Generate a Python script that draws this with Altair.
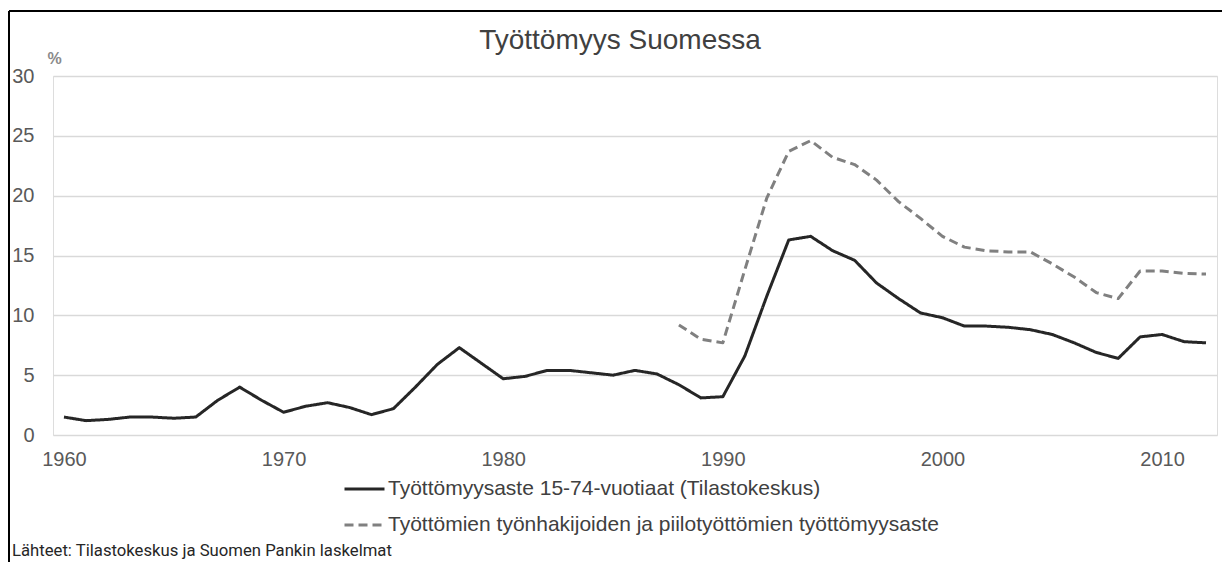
import altair as alt
import pandas as pd

# ---- data ----
series_names = [
    "Työttömyysaste 15-74-vuotiaat (Tilastokeskus)",
    "Työttömien työnhakijoiden ja piilotyöttömien työttömyysaste",
]
years_a = list(range(1960, 2013))
values_a = [1.5, 1.2, 1.3, 1.5, 1.5, 1.4, 1.5, 2.9, 4.0, 2.9,
            1.9, 2.4, 2.7, 2.3, 1.7, 2.2, 4.0, 5.9, 7.3, 6.0,
            4.7, 4.9, 5.4, 5.4, 5.2, 5.0, 5.4, 5.1, 4.2, 3.1,
            3.2, 6.6, 11.6, 16.3, 16.6, 15.4, 14.6, 12.7, 11.4, 10.2,
            9.8, 9.1, 9.1, 9.0, 8.8, 8.4, 7.7, 6.9, 6.4, 8.2,
            8.4, 7.8, 7.7]
years_b = list(range(1988, 2013))
values_b = [9.2, 8.0, 7.7, 13.8, 19.8, 23.7, 24.6, 23.2, 22.6, 21.3,
            19.5, 18.1, 16.6, 15.7, 15.4, 15.3, 15.3, 14.3, 13.2, 11.9,
            11.4, 13.7, 13.7, 13.5, 13.45]
x_tick_values = [1960, 1970, 1980, 1990, 2000, 2010]
y_tick_values = [0, 5, 10, 15, 20, 25, 30]
chart_title = ["Työttömyys Suomessa"]
y_unit = "%"
source_note = ["Lähteet: Tilastokeskus ja Suomen Pankin laskelmat"]

rows = [{"vuosi": y, "arvo": v, "sarja": series_names[0]} for y, v in zip(years_a, values_a)]
rows += [{"vuosi": y, "arvo": v, "sarja": series_names[1]} for y, v in zip(years_b, values_b)]
df = pd.DataFrame(rows)

W, H = 1164, 359

legend_cfg = dict(title=None, orient="none", legendX=290, legendY=395,
                  direction="vertical", symbolType="stroke",
                  symbolSize=1600, symbolStrokeWidth=3,
                  labelFontSize=21, labelFont="Liberation Sans",
                  labelColor="#404040", labelOffset=2,
                  labelLimit=800, clipHeight=36, rowPadding=0, padding=0)

lines = alt.Chart(df).mark_line(strokeWidth=3, strokeJoin="round").encode(
    x=alt.X("vuosi:Q",
            scale=alt.Scale(domain=[1959.5, 2012.5], nice=False, zero=False),
            axis=alt.Axis(values=x_tick_values, format="d", title=None, grid=False,
                          ticks=False, tickSize=0, domain=False, labelFontSize=20,
                          labelColor="#595959", labelFont="Liberation Sans",
                          labelPadding=14.5, labelFlush=False)),
    y=alt.Y("arvo:Q",
            scale=alt.Scale(domain=[0, 30], nice=False),
            axis=alt.Axis(values=y_tick_values, title=y_unit, titleAngle=0,
                          titleAlign="left", titleBaseline="alphabetic",
                          titleX=-6, titleY=-13, titleFontSize=16,
                          titleFont="Liberation Sans", titleColor="#8a8a8a",
                          titleFontWeight="bold",
                          grid=True, gridColor="#d9d9d9", gridWidth=1.3,
                          ticks=False, tickSize=0, domain=False, labelFontSize=20,
                          labelColor="#595959", labelFont="Liberation Sans",
                          labelPadding=19)),
    color=alt.Color("sarja:N",
                    scale=alt.Scale(domain=series_names, range=["#262626", "#808080"]),
                    legend=alt.Legend(**legend_cfg)),
    strokeDash=alt.StrokeDash("sarja:N",
                              scale=alt.Scale(domain=series_names, range=[[1, 0], [9, 5]]),
                              legend=alt.Legend(**legend_cfg)),
)

title_df = pd.DataFrame({"teksti": chart_title})
title = alt.Chart(title_df).mark_text(
    align="center", baseline="alphabetic", font="Liberation Sans", fontSize=28,
    color="#404040"
).encode(x=alt.value(567), y=alt.value(-27), text="teksti:N")

note_df = pd.DataFrame({"teksti": source_note})
note = alt.Chart(note_df).mark_text(
    align="left", baseline="alphabetic", font="Roboto", fontSize=16.7, color="#262626"
).encode(x=alt.value(-41), y=alt.value(480), text="teksti:N")

frame_top = alt.Chart(note_df).mark_rule(color="#000000", strokeWidth=2).encode(
    x=alt.value(-44), x2=alt.value(1200), y=alt.value(-65))
frame_left = alt.Chart(note_df).mark_rule(color="#000000", strokeWidth=2).encode(
    x=alt.value(-44), y=alt.value(-65), y2=alt.value(520))

chart = alt.layer(lines, title, note, frame_top, frame_left).properties(
    width=W, height=H,
    autosize=alt.AutoSizeParams(type="none"),
    padding={"left": 45, "top": 68, "right": 5, "bottom": 127},
).configure_view(stroke=None).configure(background="white")

chart.save("out.html", embed_options={"renderer": "svg", "actions": False})
